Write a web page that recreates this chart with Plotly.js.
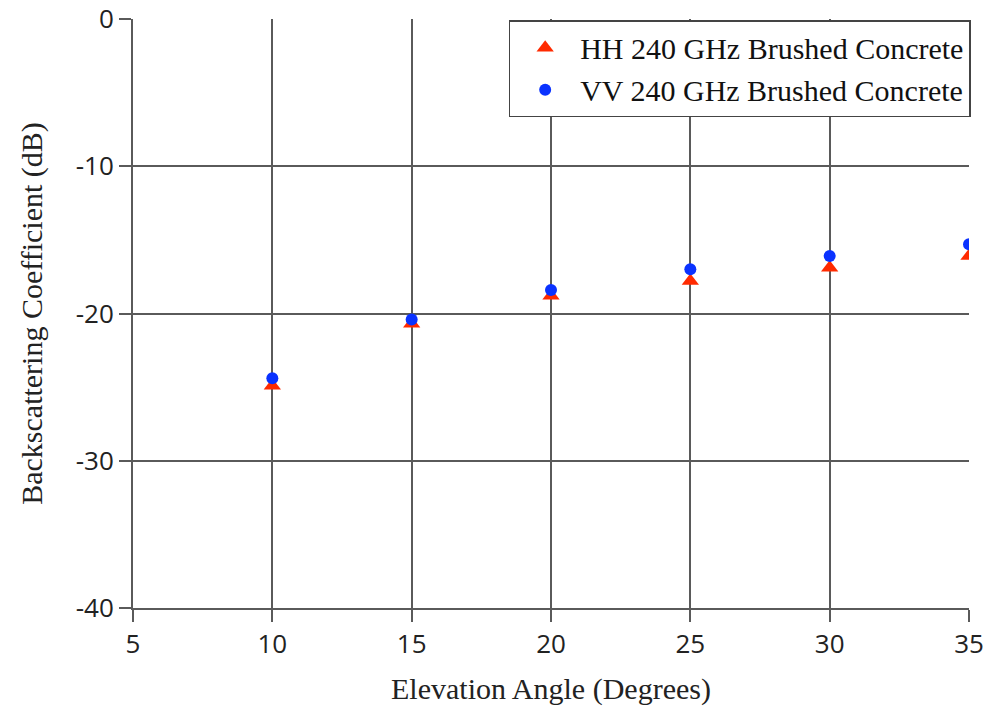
<!DOCTYPE html>
<html>
<head>
<meta charset="utf-8">
<script src="https://cdn.plot.ly/plotly-3.0.1.min.js"></script>
<style>html,body{margin:0;padding:0;background:#fff;}#chart{width:990px;height:709px;}</style>
</head>
<body>
<div id="chart"></div>
<script>
const angles = [10, 15, 20, 25, 30, 35];
const hhValues = [-24.9, -20.7, -18.8, -17.8, -16.9, -16.1];
const vvValues = [-24.4, -20.4, -18.4, -17.0, -16.1, -15.3];
const xTicks = [5, 10, 15, 20, 25, 30, 35];
const yTicks = [0, -10, -20, -30, -40];

const traces = [
  {x: angles, y: hhValues, mode: 'markers', type: 'scatter', name: 'HH 240 GHz Brushed Concrete',
   marker: {symbol: 'triangle-up', size: 15, color: '#ff2a00'}},
  {x: angles, y: vvValues, mode: 'markers', type: 'scatter', name: 'VV 240 GHz Brushed Concrete',
   marker: {symbol: 'circle', size: 12, color: '#0a32ff'}}
];

const serif = 'Liberation Serif, Times New Roman, serif';
const sans = 'Open Sans, DejaVu Sans, sans-serif';

const layout = {
  width: 990, height: 709,
  margin: {l: 133, r: 21, t: 19, b: 101},
  paper_bgcolor: '#fff', plot_bgcolor: '#fff',
  showlegend: true,
  legend: {x: 1.002, xanchor: 'right', y: 0.998, yanchor: 'top',
    bgcolor: '#fff', bordercolor: '#444', borderwidth: 1.5,
    font: {family: serif, size: 30, color: '#111'},
    itemsizing: 'trace', itemwidth: 60, tracegroupgap: 0},
  xaxis: {range: [5, 35], tickvals: xTicks, ticktext: xTicks.map(String),
    showgrid: true, gridcolor: '#5a5a5a', gridwidth: 2,
    showline: true, linecolor: '#5a5a5a', linewidth: 2,
    ticks: 'outside', ticklen: 12, tickcolor: '#5a5a5a', tickwidth: 2,
    zeroline: false,
    tickfont: {family: sans, size: 26, color: '#222'},
    title: {text: 'Elevation Angle (Degrees)', standoff: 18,
      font: {family: serif, size: 30, color: '#222'}}},
  yaxis: {range: [-40, 0], tickvals: yTicks, ticktext: yTicks.map(String),
    showgrid: true, gridcolor: '#5a5a5a', gridwidth: 2,
    showline: true, linecolor: '#5a5a5a', linewidth: 2,
    ticks: 'outside', ticklen: 12, tickcolor: '#5a5a5a', tickwidth: 2,
    zeroline: false,
    tickfont: {family: sans, size: 26, color: '#222'},
    title: {text: 'Backscattering Coefficient (dB)', standoff: 24,
      font: {family: serif, size: 30, color: '#222'}}}
};

Plotly.newPlot('chart', traces, layout, {displayModeBar: false, staticPlot: true});
</script>
</body>
</html>
